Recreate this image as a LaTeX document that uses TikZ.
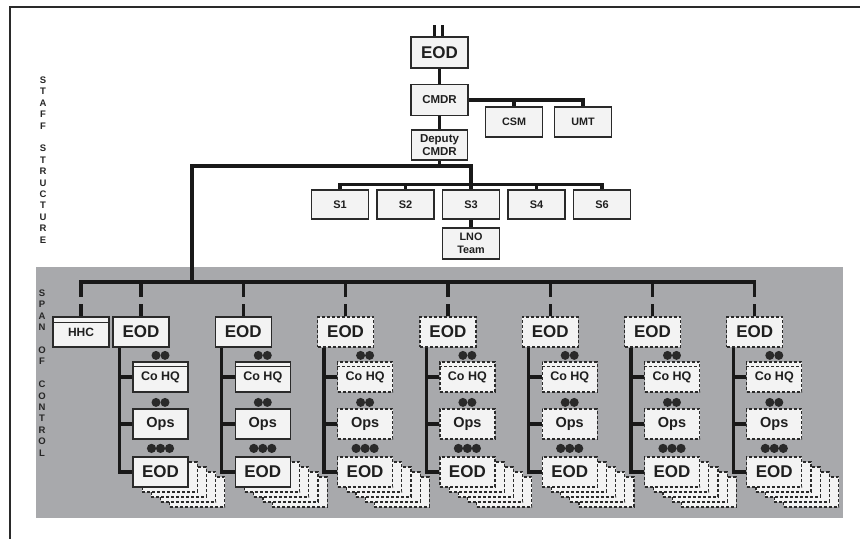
\documentclass[tikz,border=0pt]{standalone}
\usepackage{fontspec}
\setmainfont{Liberation Sans}
\usetikzlibrary{positioning}
\definecolor{spangray}{HTML}{A8A9AC}
\definecolor{boxfill}{HTML}{F3F3F3}
\definecolor{boxline}{HTML}{2A2A2A}
\pgfdeclarelayer{back}
\pgfdeclarelayer{stack}
\pgfsetlayers{back,stack,main}

\begin{document}
\begin{tikzpicture}[x=1pt, y=-1pt, node distance=45pt, on grid,
  box/.style={draw=boxline, line width=1.2pt, fill=boxfill, text=black!88,
    inner sep=0pt, minimum width=57pt, minimum height=30pt, align=center,
    font=\bfseries\fontsize{11.5}{13.5}\selectfont},
  bigbox/.style={box, minimum width=56pt, font=\bfseries\fontsize{17}{17}\selectfont},
  subbox/.style={box, minimum width=55pt},
  look0/.style={},
  look1/.style={dash pattern=on 3pt off 2pt},
  band/.style={line width=1pt, draw=boxline},
  link/.style={line width=3.3pt, draw=black!90},
  bar/.style={link, line cap=rect},
  frame/.style={line width=2.4pt, draw=boxline},
  sidetext/.style={font=\bfseries\fontsize{9.5}{11.4}\selectfont, align=center,
    inner sep=0pt, text=black!85, anchor=north}]
\useasboundingbox (0,0) rectangle (860,539);
\draw[frame] (860,7) -- (10,7) -- (10,539);
\begin{pgfonlayer}{back}
\fill[spangray] (36,267) rectangle (843,518);
\end{pgfonlayer}

% staff structure
\node[bigbox, minimum width=57pt, minimum height=31pt] (eod0) at (439.5,52.5) {EOD};
\node[box, minimum height=31pt] (cmdr) [below=47.5pt of eod0] {CMDR};
\node[box, minimum width=56pt] (deputy) [below=45pt of cmdr] {Deputy\\CMDR};
\node[box, font=\bfseries\fontsize{10.8}{12}\selectfont] (csm) [below right=22pt and 74.5pt of cmdr] {CSM};
\node[box, font=\bfseries\fontsize{10.8}{12}\selectfont] (umt) [right=69pt of csm] {UMT};
\node[box, minimum height=29pt, font=\bfseries\fontsize{11}{12}\selectfont] (s3) [below right=59.5pt and 31.5pt of deputy] {S3};
\node[box, minimum height=29pt, font=\bfseries\fontsize{11}{12}\selectfont] (s2) [left=65.5pt of s3] {S2};
\node[box, minimum height=29pt, font=\bfseries\fontsize{11}{12}\selectfont] (s1) [left=65.5pt of s2] {S1};
\node[box, minimum height=29pt, font=\bfseries\fontsize{11}{12}\selectfont] (s4) [right=65.5pt of s3] {S4};
\node[box, minimum height=29pt, font=\bfseries\fontsize{11}{12}\selectfont] (s6) [right=65.5pt of s4] {S6};
\node[box, minimum height=31pt, font=\bfseries\fontsize{10.8}{13}\selectfont] (lno) [below=39pt of s3] {LNO\\Team};

\coordinate (feedL) at (434.5,25);
\coordinate (feedR) at (442.5,25);
\coordinate (staffbar) at (192,166);
\coordinate (spanbar) at (192,282);
\coordinate (sbar) at ([yshift=5pt]s3.north);

\draw[link] (feedL) -- (feedL |- eod0.north);
\draw[link] (feedR) -- (feedR |- eod0.north);
\draw[link] (eod0) -- (cmdr);
\draw[link] (cmdr) -- (deputy);
\draw[link] (cmdr.east) -| (umt.north);
\draw[link] (csm.north) -- (csm.north |- cmdr.east);
\draw[link] (deputy.south) -- (deputy.south |- staffbar);
\draw[link] (spanbar) -- (staffbar) -| (sbar);
\draw[bar] (s1.north |- sbar) -- (s6.north |- sbar);
\foreach \s in {s1,s2,s3,s4,s6}
  \draw[link] (\s.north |- sbar) -- (\s.north);
\draw[link] (s3) -- (lno);

\node[sidetext] (staff) at (43,76.7)
  {S\\T\\A\\F\\F\\\mbox{}\\S\\T\\R\\U\\C\\T\\U\\R\\E};

% span of control
\node[sidetext] (span) at (42,289.7)
  {S\\P\\A\\N\\\mbox{}\\O\\F\\\mbox{}\\C\\O\\N\\T\\R\\O\\L};

\node[subbox, minimum width=56pt, font=\bfseries\fontsize{12}{12}\selectfont] (hhc) at (81,332) {HHC};
\draw[band] ([yshift=-6pt]hhc.north west) -- ([yshift=-6pt]hhc.north east);

\foreach \i [evaluate=\i as \cx using 141+102.3*(\i-1),
             evaluate=\i as \lk using int(\i>2)] in {1,...,7}{
  \node[bigbox, look\lk] (u\i) at (\cx,332) {EOD};
  \node[subbox, look\lk, font=\bfseries\fontsize{12.5}{13}\selectfont] (hq\i)
    [below right=45pt and 19.5pt of u\i] {Co HQ};
  \node[subbox, look\lk, font=\bfseries\fontsize{14.5}{15}\selectfont] (ops\i)
    [below=47pt of hq\i] {Ops};
  \node[bigbox, minimum width=55pt, look\lk] (e\i) [below=48pt of ops\i] {EOD};
  \draw[band, look\lk] ([yshift=-5.5pt]hq\i.north west) -- ([yshift=-5.5pt]hq\i.north east);
  \begin{pgfonlayer}{stack}
    \foreach \k in {4,3,2,1}
      \node[subbox, look1] at ([xshift={9.2pt*\k}, yshift={-5pt*\k}]e\i.center) {};
  \end{pgfonlayer}
  \foreach \d in {-4.5,4.5} {
    \fill[boxline] ([xshift=\d pt, yshift=6pt]hq\i.north) circle[radius=4.5pt];
    \fill[boxline] ([xshift=\d pt, yshift=6pt]ops\i.north) circle[radius=4.5pt];
  }
  \foreach \d in {-9,0,9}
    \fill[boxline] ([xshift=\d pt, yshift=8pt]e\i.north) circle[radius=4.6pt];
  \coordinate (t\i) at ([xshift=7pt]u\i.south west);
  \draw[link] (t\i) |- (e\i.west);
  \draw[link] (t\i |- hq\i.west) -- (hq\i.west);
  \draw[link] (t\i |- ops\i.west) -- (ops\i.west);
  \draw[link] (u\i.north |- spanbar) -- ++(0,15);
  \draw[link] (u\i.north) -- ++(0,-12);
}
\draw[link] (hhc.north |- spanbar) -- ++(0,15);
\draw[link] (hhc.north) -- ++(0,-12);
\draw[bar] (hhc.north |- spanbar) -- (u7.north |- spanbar);
\end{tikzpicture}
\end{document}
